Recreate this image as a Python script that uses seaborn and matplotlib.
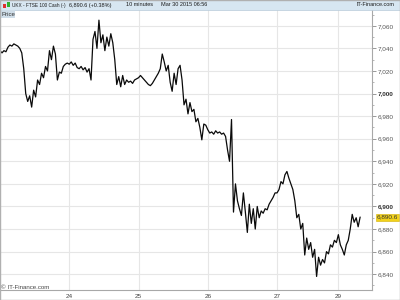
import matplotlib
matplotlib.use("Agg")
import matplotlib.pyplot as plt
from matplotlib.patches import Rectangle
import seaborn as sns
import pandas as pd
import numpy as np

# ---- data, one list per trading session ----
day_labels = ["23", "24", "25", "26", "27", "29"]
d23 = [7038, 7036, 7038, 7037, 7041, 7043, 7042, 7044, 7043, 7042, 7040, 7036,
       7022, 7000, 6993, 6998, 6988, 7003, 6997, 7012, 7008, 7018, 7014, 7024,
       7020, 7038, 7030, 7042, 7035, 7012, 7019, 7018, 7024, 7026, 7027]
d24 = [7026, 7028, 7025, 7027, 7023, 7022, 7024, 7021, 7023, 7019, 7022, 7012,
       7048, 7055, 7040, 7065, 7045, 7052, 7038, 7050, 7042, 7053, 7045, 7030,
       7008, 7015, 7006, 7016, 7008, 7012, 7010, 7011, 7009, 7012, 7013]
d25 = [7014, 7016, 7014, 7012, 7010, 7008, 7007, 7009, 7012, 7015, 7018, 7022,
       7035, 7028, 7020, 7025, 7010, 7002, 7018, 7008, 7022, 7025, 7012, 6990,
       6995, 6982, 6992, 6984, 6986, 6975, 6978, 6970, 6959, 6973, 6972]
d26 = [6968, 6965, 6966, 6964, 6967, 6965, 6966, 6964, 6965, 6962, 6950, 6940,
       6977, 6895, 6920, 6905, 6898, 6892, 6912, 6895, 6877, 6902, 6885, 6898,
       6880, 6900, 6890, 6896, 6894, 6898, 6897, 6902, 6905, 6908, 6912]
d27 = [6912, 6915, 6922, 6920, 6928, 6931, 6925, 6920, 6915, 6905, 6890, 6893,
       6880, 6885, 6857, 6872, 6862, 6868, 6855, 6862, 6838, 6855, 6848, 6853,
       6850, 6860, 6858, 6866, 6864, 6870, 6868]
d30 = [6875, 6866, 6862, 6857, 6866, 6870, 6880, 6893, 6886, 6890, 6882, 6890.6]
sessions = [d23, d24, d25, d26, d27, d30]

y_ticks = list(range(6840, 7061, 20))
title_parts = ["UKX - FTSE 100 Cash (-)", "6,890.6 (+0.38%)", "10 minutes", "Mar 30 2015 06:56"]

# ---- build frame ----
prices = [p for s in sessions for p in s]
df = pd.DataFrame({"idx": np.arange(len(prices)), "price": prices})
starts = np.cumsum([0] + [len(s) for s in sessions[:-1]])

sns.set_style("white")
plt.rcParams["font.family"] = ["Liberation Sans", "DejaVu Sans"]

W, H = 400, 300
fig = plt.figure(figsize=(4, 3), dpi=100)
ax = fig.add_axes([0, 10 / H, 372 / W, 280 / H])

sns.lineplot(data=df, x="idx", y="price", ax=ax, color="#0a0a0a", linewidth=0.9, estimator=None)

ax.set_xlim(0, 188)
ax.set_ylim(6826, 7074)

# grid
ax.set_yticks(y_ticks, labels=[f"{v:,}" for v in y_ticks])
ax.set_yticks(list(range(6830, 7071, 10)), minor=True)
ax.set_xticks(starts[1:], labels=day_labels[1:])
ax.grid(True, which="major", color="#e6e6e6", linewidth=0.8)
ax.set_axisbelow(True)

ax.yaxis.tick_right()
ax.tick_params(axis="y", which="major", direction="out", length=3, width=0.6,
               colors="#888888", labelsize=4.6, labelcolor="#555555", pad=1)
ax.tick_params(axis="y", which="minor", direction="out", length=1.5, width=0.5, colors="#999999")
ax.tick_params(axis="x", direction="out", length=2, width=0.6, colors="#999999",
               labelsize=4.6, labelcolor="#444444", pad=1)
for t, v in zip(ax.get_yticklabels(), y_ticks):
    if v % 100 == 0:
        t.set_fontweight("bold")
        t.set_color("#333333")
ax.set_xlabel("")
ax.set_ylabel("")
for side in ["top", "left"]:
    ax.spines[side].set_visible(False)
for side in ["right", "bottom"]:
    ax.spines[side].set_color("#a8a8a8")
    ax.spines[side].set_linewidth(0.8)

# last price label
last = prices[-1]
ax.annotate(f"{last:,.1f}", xy=(1.0, last), xycoords=("axes fraction", "data"),
            xytext=(3.5, 0), textcoords="offset points", va="center", ha="left",
            fontsize=4.6, color="#333333",
            bbox=dict(boxstyle="square,pad=0.15", fc="#f2d21b", ec="#d4b000", lw=0.4))

# header bar
fig.patches.append(Rectangle((0, 290 / H), 1, 10 / H, transform=fig.transFigure,
                             facecolor="#d7e6f1", edgecolor="#b8cbd9", lw=0.5, zorder=0))
fig.patches.append(Rectangle((3 / W, 292 / H), 3 / W, 4 / H, transform=fig.transFigure,
                             facecolor="#e03030", edgecolor="none"))
fig.patches.append(Rectangle((7 / W, 293 / H), 3 / W, 5 / H, transform=fig.transFigure,
                             facecolor="#30b030", edgecolor="none"))
xs = [12, 69, 126, 161]
limits = [66, 122, 158, 215]
renderer = fig.canvas.get_renderer()
for x, lim, txt in zip(xs, limits, title_parts):
    t = fig.text(x / W, 295 / H, txt, fontsize=4.0, va="center", ha="left", color="#1a1a1a")
    w = t.get_window_extent(renderer).width
    avail = lim - x
    if w > avail:
        t.set_fontsize(4.0 * avail / w)
fig.text(394 / W, 295 / H, "IT-Finance.com", fontsize=4.0, va="center", ha="right",
         color="#1a1a1a")

# Price box
fig.patches.append(Rectangle((0, 282 / H), 15 / W, 8 / H, transform=fig.transFigure,
                             facecolor="#cfdde8", edgecolor="none"))
fig.text(1 / W, 286 / H, "Price", fontsize=4.4, va="center", ha="left", color="#333333")

# copyright
fig.text(1 / W, 12.5 / H, "\u00a9 IT-Finance.com", fontsize=4.4, va="center", ha="left", color="#444444")

# outer frame
fig.patches.append(Rectangle((0, 0), 1, 1, transform=fig.transFigure, fill=False,
                             edgecolor="#b0b0b0", lw=1))

fig.savefig("out.png", dpi=100)
